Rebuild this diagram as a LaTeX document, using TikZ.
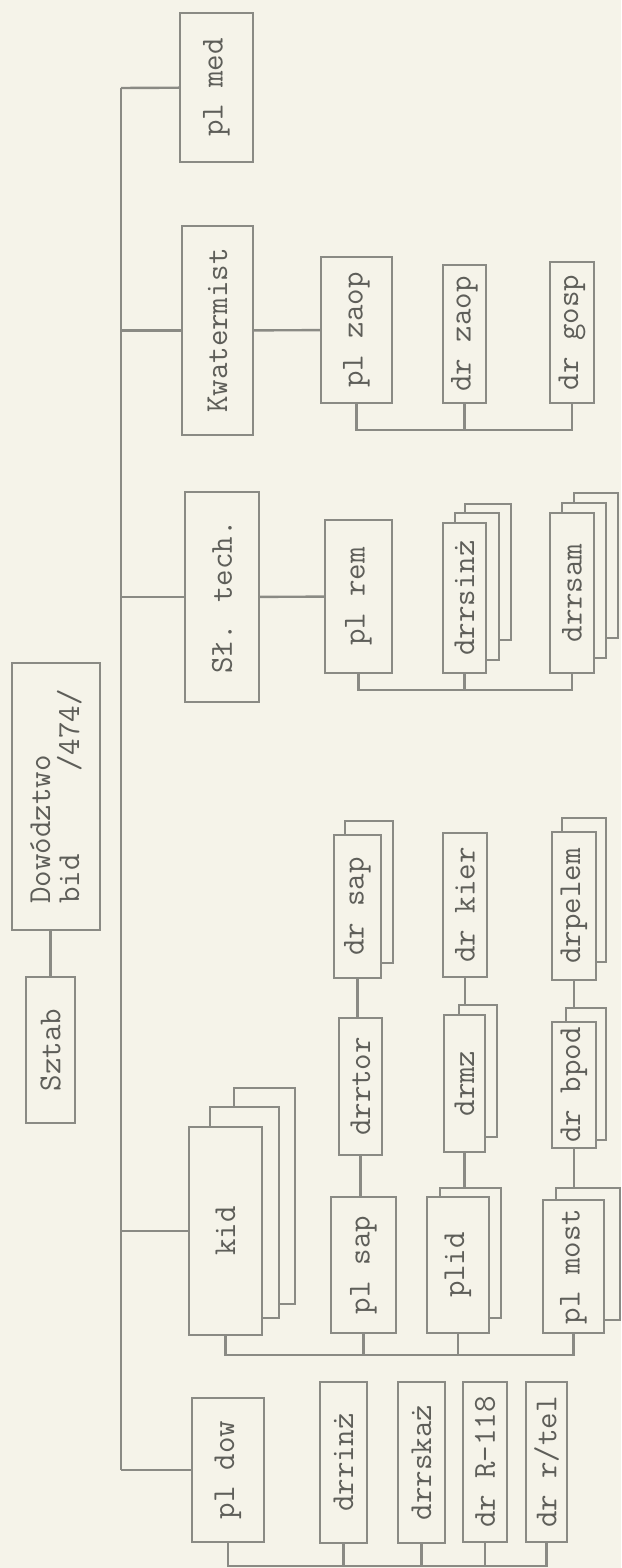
\documentclass[tikz,border=0pt]{standalone}
\usepackage{fontspec}
\definecolor{paper}{HTML}{F5F3E9}
\definecolor{inkline}{HTML}{8A8A84}
\definecolor{inktext}{HTML}{5E5E59}
\begin{document}
\begin{tikzpicture}[x=1pt, y=-1pt, color=inkline, line width=2.4pt]
        \tikzset{box/.style={draw, fill=paper, rotate=90, inner sep=0pt, text=inktext, font=\ttfamily\fontsize{32}{29}\selectfont},
                 wh/.style 2 args={minimum height=#1, minimum width=#2}}
        \fill[paper] (0,0) rectangle (621,1568);
        \useasboundingbox (0,0) rectangle (621,1568);
        % staff and command
        \node[box, wh={88}{267}, align=left] (dowod) at (56,796.5) {Dowództwo\\bid\phantom{xxxxx}/474/};
        \node[box, wh={49}{146}] (sztab) at (50.5,1050) {Sztab};
        \draw (sztab.east) -- (sztab.east |- dowod.west);
        % trunk
        \coordinate (ttop) at (121,88);
        \coordinate (tbot) at (121,1470);
        \draw (ttop) -- (tbot);
        % top row
        \node[box, wh={73}{149}] (plmed) at (216.5,87.5) {pl med};
        \node[box, wh={71}{209}] (kwat) at (217.5,330.5) {Kwatermist};
        \node[box, wh={74}{210}] (sltech) at (222,597) {Sł. tech.};
        \node[box, wh={61}{216}] (kid3) at (264.5,1196) {};
        \node[box, wh={69}{211}] (kid2) at (244.5,1212.5) {};
        \node[box, wh={73}{208}] (kid) at (225.5,1231) {kid};
        \node[box, wh={72}{144}] (pldow) at (228,1470) {pl dow};
        \draw (ttop) -- (plmed);
        \draw (kwat -| ttop) -- (kwat);
        \draw (sltech -| ttop) -- (sltech);
        \draw (kid -| ttop) -- (kid);
        \draw (pldow -| tbot) -- (pldow);
        % kwatermistrz
        \node[box, wh={71}{146}] (plzaop) at (356.5,330) {pl zaop};
        \node[box, wh={43}{138}] (drzaop) at (464.5,334) {dr zaop};
        \node[box, wh={44}{141}] (drgosp) at (572,332.5) {dr gosp};
        \coordinate (busq) at (572,430);
        \draw (kwat) -- (plzaop);
        \draw (plzaop.west) |- (busq) -- (drgosp.west);
        \draw (drzaop.west) -- (drzaop.west |- busq);
        % sluzba techniczna
        \node[box, wh={67}{153}] (plrem) at (358.5,596.5) {pl rem};
        \node[box, wh={46}{136}] (drrsinz3) at (488,572) {};
        \node[box, wh={44}{147}] (drrsinz2) at (477,586.5) {};
        \node[box, wh={43}{150}] (drrsinz) at (464.5,598) {drrsinż};
        \node[box, wh={44}{145}] (drrsam3) at (596,565.5) {};
        \node[box, wh={44}{155}] (drrsam2) at (584,580.5) {};
        \node[box, wh={44}{160}] (drrsam) at (572,593) {drrsam};
        \coordinate (buss) at (572,690);
        \draw (sltech) -- (plrem);
        \draw (plrem.west) |- (buss) -- (drrsam.west);
        \draw (drrsinz.west) -- (drrsinz.west |- buss);
        % kompanie
        \node[box, wh={65}{136}] (plsap) at (363.5,1265) {pl sap};
        \node[box, wh={43}{137}] (drrtor) at (360.5,1086.5) {drrtor};
        \node[box, wh={48}{142}] (drsap2) at (369,892) {};
        \node[box, wh={47}{143}] (drsap) at (357.5,906.5) {dr sap};
        \node[box, wh={61}{130}] (plid2) at (470.5,1253) {};
        \node[box, wh={62}{136}] (plid) at (458,1265) {plid};
        \node[box, wh={38}{132}] (drmz2) at (478,1071) {};
        \node[box, wh={41}{137}] (drmz) at (464.5,1083.5) {drmz};
        \node[box, wh={44}{144}] (drkier) at (465,905) {dr kier};
        \node[box, wh={64}{132}] (plmost2) at (588,1254) {};
        \node[box, wh={61}{133}] (plmost) at (573.5,1266.5) {pl most};
        \node[box, wh={40}{132}] (drbpod2) at (586,1074) {};
        \node[box, wh={44}{126}] (drbpod) at (574,1085) {dr bpod};
        \node[box, wh={44}{144}] (drpelem2) at (584,890) {};
        \node[box, wh={44}{148}] (drpelem) at (574,906) {drpelem};
        \draw (drrtor.west) -- (drrtor.west |- plsap.east);
        \draw (drsap.west) -- (drsap.west |- drrtor.east);
        \draw (drmz.west) -- (drmz.west |- plid2.east);
        \draw (drkier.west) -- (drkier.west |- drmz2.east);
        \draw (drbpod.west) -- (drbpod.west |- plmost2.east);
        \draw (drpelem.west) -- (drpelem.west |- drbpod2.east);
        \coordinate (busk) at (573.5,1355);
        \draw (kid.west) |- (busk) -- (plmost.west);
        \draw (plsap.west) -- (plsap.west |- busk);
        \draw (plid.west) -- (plid.west |- busk);
        % pluton dowodzenia
        \node[box, wh={47}{161}] (drrinz) at (343.5,1462.5) {drrinż};
        \node[box, wh={47}{161}] (drrskaz) at (421.5,1462.5) {drrskaż};
        \node[box, wh={44}{160}] (drr118) at (485,1462) {dr R-118};
        \node[box, wh={41}{160}] (drrtel) at (546.5,1462) {dr r/tel};
        \coordinate (busd) at (546.5,1566);
        \draw (pldow.west) |- (busd) -- (drrtel.west);
        \draw (drrinz.west) -- (drrinz.west |- busd);
        \draw (drrskaz.west) -- (drrskaz.west |- busd);
        \draw (drr118.west) -- (drr118.west |- busd);
    \end{tikzpicture}
\end{document}
